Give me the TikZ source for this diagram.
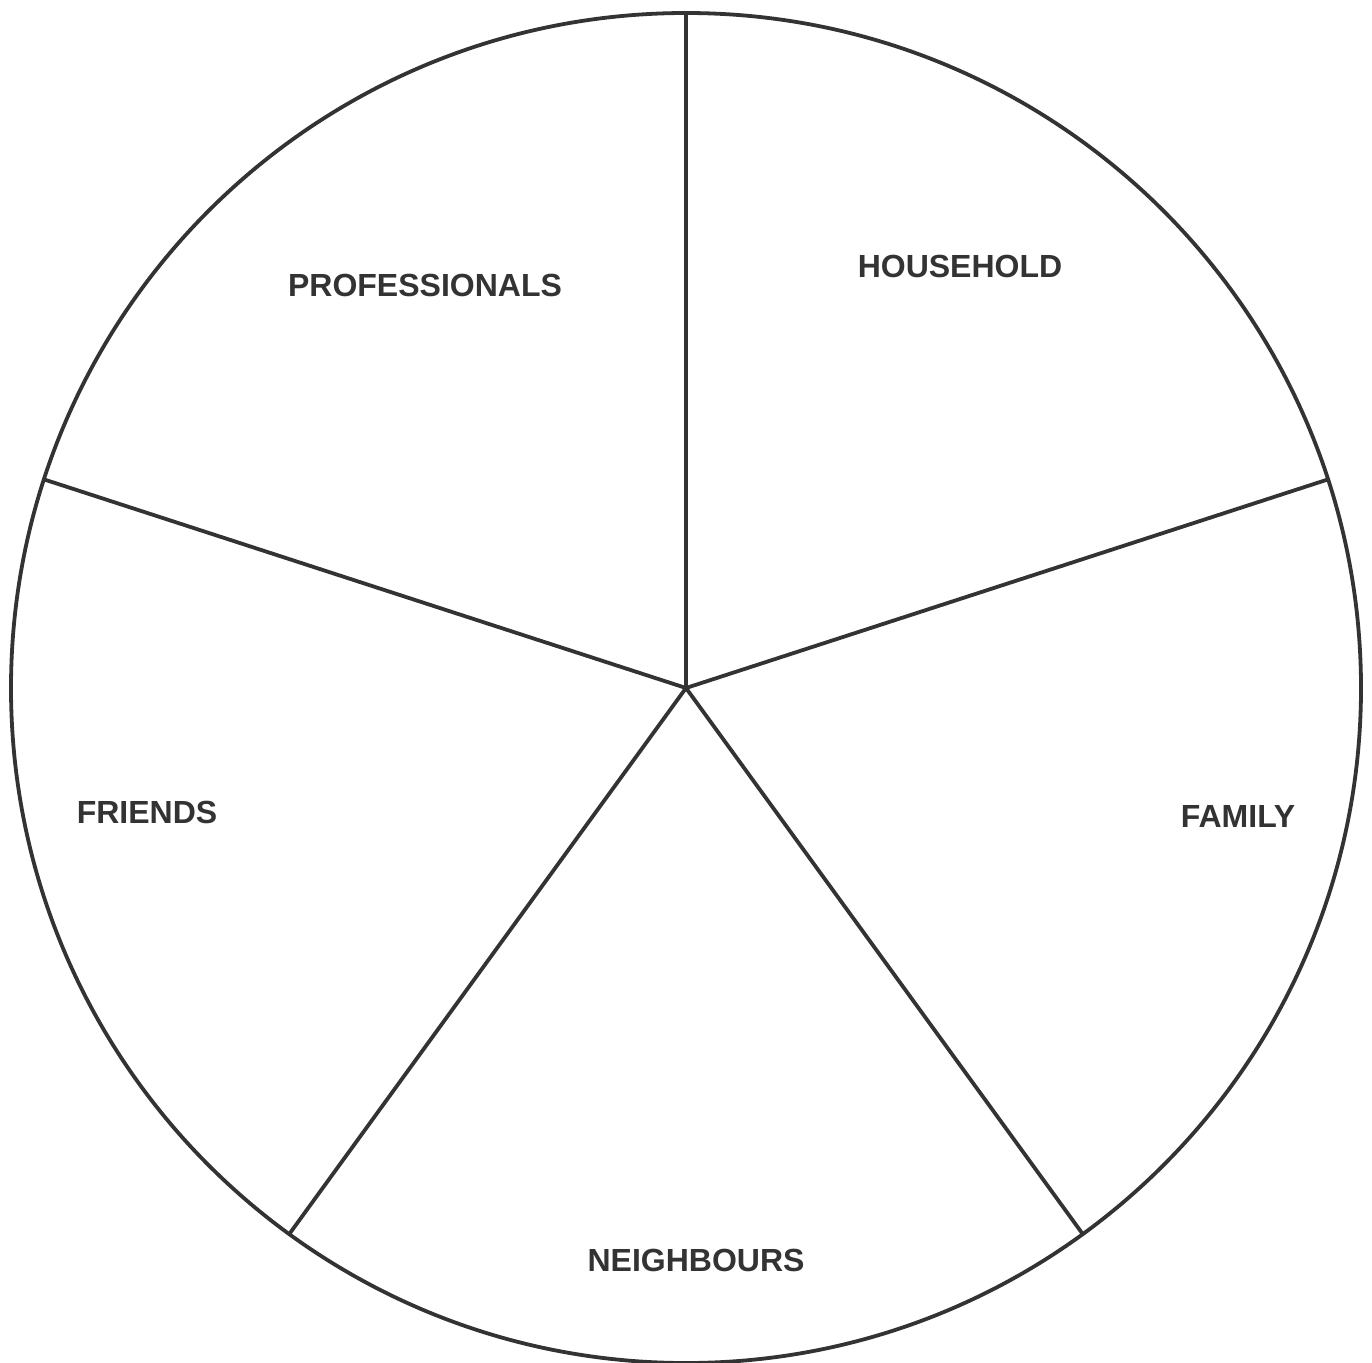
\documentclass[tikz,border=0pt]{standalone}
\usepackage{fontspec}
\setmainfont{Liberation Sans}
\usetikzlibrary{calc}
\definecolor{ink}{HTML}{333333}
\begin{document}
\begin{tikzpicture}[x=1pt,y=-1pt,
  rim/.style={draw=ink,line width=3.8pt},
  spoke/.style={draw=ink,line width=3.8pt},
  lab/.style={text=ink,font=\fontsize{32}{38}\selectfont\bfseries,inner sep=0pt}]
\useasboundingbox (0,0) rectangle (1372,1362);
\coordinate (c) at (686,688);
\draw[rim] (c) circle (675);
\foreach \a/\n in {-90/p1,-18/p2,54/p3,126/p4,-162/p5}{
  \coordinate (\n) at ($(c)+(\a:675)$);
}
\draw[spoke] (c) -- (p1);
\draw[spoke] (c) -- (p2);
\draw[spoke] (c) -- (p3);
\draw[spoke] (c) -- (p4);
\draw[spoke] (c) -- (p5);
\node[lab] (household) at (960,266) {HOUSEHOLD};
\node[lab] (professionals) at (425,285) {PROFESSIONALS};
\node[lab] (friends) at (147,812) {FRIENDS};
\node[lab] (family) at (1238,816) {FAMILY};
\node[lab] (neighbours) at (696,1260) {NEIGHBOURS};
\end{tikzpicture}
\end{document}
